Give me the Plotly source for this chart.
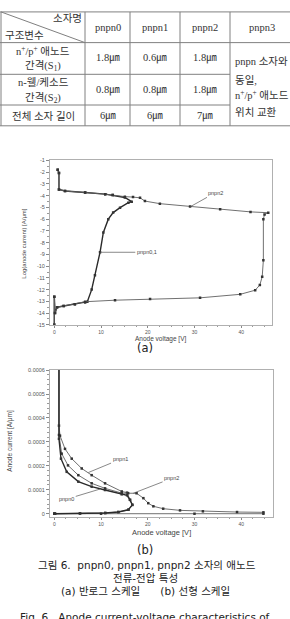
import plotly.graph_objects as go

W, H = 290, 619

# ---------------- table data ----------------
table_cols = ["pnpn0", "pnpn1", "pnpn2", "pnpn3"]
row_labels = [["n<sup>+</sup>/p<sup>+</sup> 애노드", "간격(S<sub>1</sub>)"],
              ["n-웰/케소드", "간격(S<sub>2</sub>)"],
              ["전체 소자 길이"]]
row_values = [["1.8㎛", "0.6㎛", "1.8㎛"],
              ["0.8㎛", "0.8㎛", "1.8㎛"],
              ["6㎛", "6㎛", "7㎛"]]
pnpn3_text = ["pnpn 소자와", "동일,", "n<sup>+</sup>/p<sup>+</sup> 애노드", "위치 교환"]

# ---------------- (a) semi-log data (log10 of A/um) ----------------
v01_log = [0.0, 0.0, 0.15, 0.6, 2.0, 4.4, 6.6, 7.07, 8.0, 8.7, 9.79, 10.5, 11.56, 12.6, 14.07,
           15.85, 16.57, 15.1, 12.5, 10.9, 6.6, 2.3, 1.0, 1.0, 0.73]
l01_log = [-15.0, -12.6, -14.0, -13.5, -13.4, -13.25, -13.1, -13.03, -12.0, -10.78, -8.82, -7.13,
           -6.0, -5.44, -5.02, -4.6, -4.51, -4.15, -3.95, -3.87, -3.73, -3.6, -3.47, -2.07, -1.79]
v2_log = [0.0, 0.0, 0.15, 0.6, 2.0, 4.4, 6.6, 13.0, 20.5, 31.2, 39.8, 43.0, 44.0, 44.5, 44.75,
          44.75, 45.0, 45.8, 42.0, 35.5, 29.06, 22.6, 19.4, 18.35, 16.85, 15.1, 12.5, 10.9, 6.6,
          2.3, 1.0, 1.0, 0.73]
l2_log = [-15.0, -12.6, -14.0, -13.5, -13.4, -13.25, -13.03, -12.9, -12.8, -12.7, -12.4, -12.05,
          -11.6, -10.9, -9.5, -6.0, -5.6, -5.45, -5.38, -5.15, -4.93, -4.68, -4.46, -4.18, -4.12,
          -4.08, -3.95, -3.87, -3.73, -3.6, -3.47, -2.07, -1.79]

# ---------------- (b) linear data (A/um) ----------------
v0_lin = [1.0, 1.0, 1.43, 2.66, 5.14, 8.0, 10.86, 14.43, 15.57, 16.2, 16.7, 15.85, 13.7, 10.9,
          5.5, 0.15, 0.0]
i0_lin = [7.0e-4, 3.13e-4, 2.30e-4, 1.75e-4, 1.34e-4, 1.13e-4, 0.99e-4, 0.81e-4, 0.77e-4,
          0.58e-4, 0.37e-4, 0.165e-4, 0.07e-4, 0.03e-4, 0.01e-4, 0.0, 0.0]
v1_lin = [1.0, 1.0, 1.22, 2.29, 3.73, 5.87, 8.0, 10.86, 14.43, 15.57, 16.2, 16.7, 15.85, 13.7,
          10.9, 5.5, 0.15, 0.0]
i1_lin = [7.0e-4, 3.68e-4, 3.26e-4, 2.71e-4, 2.30e-4, 1.89e-4, 1.61e-4, 1.27e-4, 0.93e-4,
          0.88e-4, 0.58e-4, 0.37e-4, 0.165e-4, 0.07e-4, 0.03e-4, 0.01e-4, 0.0, 0.0]
v2_lin = [1.0, 1.0, 1.58, 2.93, 5.14, 8.0, 10.86, 14.43, 15.8, 17.6, 19.06, 20.1, 21.2, 23.3,
          26.9, 31.8, 39.1, 44.75, 44.75, 30.0, 10.0, 0.0]
i2_lin = [7.0e-4, 3.29e-4, 2.51e-4, 2.02e-4, 1.61e-4, 1.27e-4, 1.06e-4, 0.86e-4, 0.855e-4,
          0.855e-4, 0.65e-4, 0.44e-4, 0.31e-4, 0.21e-4, 0.14e-4, 0.10e-4, 0.07e-4, 0.058e-4,
          0.0, 0.0, 0.0, 0.0]

x_ticks = [0, 10, 20, 30, 40]
y_ticks_a = list(range(-15, 0))
y_ticks_b = [0, 0.0001, 0.0002, 0.0003, 0.0004, 0.0005, 0.0006]
y_ticktext_b = ["0", "0.0001", "0.0002", "0.0003", "0.0004", "0.0005", "0.0006"]

CJK = "Noto Sans CJK KR"
SERIF = "Liberation Serif, Noto Sans CJK KR"
CAP = "DejaVu Sans, Noto Sans CJK KR"


def px(x):
    return x / W


def py(y):
    return 1 - y / H


fig = go.Figure()

line_dark = dict(color="#2a2a2a", width=1.4)
line_mid = dict(color="#606060", width=0.9)
mk = dict(size=2.5, color="#333333", symbol="square")

fig.add_trace(go.Scatter(x=v01_log, y=l01_log, mode="lines+markers", line=line_dark, marker=mk,
                         xaxis="x", yaxis="y", showlegend=False))
fig.add_trace(go.Scatter(x=v2_log, y=l2_log, mode="lines+markers", line=line_mid, marker=mk,
                         xaxis="x", yaxis="y", showlegend=False))
fig.add_trace(go.Scatter(x=v1_lin, y=i1_lin, mode="lines+markers", line=line_mid, marker=mk,
                         xaxis="x2", yaxis="y2", showlegend=False))
fig.add_trace(go.Scatter(x=v2_lin, y=i2_lin, mode="lines+markers", line=line_mid, marker=mk,
                         xaxis="x2", yaxis="y2", showlegend=False))
fig.add_trace(go.Scatter(x=v0_lin, y=i0_lin, mode="lines+markers", line=line_dark, marker=mk,
                         xaxis="x2", yaxis="y2", showlegend=False))

axis_common = dict(showline=True, mirror=True, linecolor="#b0b0b0", linewidth=1,
                   ticks="outside", tickcolor="#888888", tickwidth=1,
                   showgrid=False, zeroline=False)
yfont = dict(size=5.5, color="#555555", family="Liberation Sans")
xfont = dict(size=5, color="#555555", family="Liberation Sans")
minor_x = dict(dtick=2.5, ticklen=1.5, ticks="outside", tickcolor="#999")

# ---------------- shapes (table lines) ----------------
shapes = []
tc = "#808080"


def hline(y, x0, x1):
    shapes.append(dict(type="line", xref="paper", yref="paper", x0=px(x0), x1=px(x1),
                       y0=py(y), y1=py(y), line=dict(color=tc, width=1)))


def vline(x, y0, y1):
    shapes.append(dict(type="line", xref="paper", yref="paper", x0=px(x), x1=px(x),
                       y0=py(y0), y1=py(y1), line=dict(color=tc, width=1)))


tbl_top, tbl_bot = 9, 124
hline(tbl_top, 0, 290)
hline(40, 0, 290)
hline(72, 0, 230)
hline(103, 0, 230)
hline(tbl_bot, 0, 290)
for xv in [1, 85, 130, 180, 230]:
    vline(xv, tbl_top, tbl_bot)
shapes.append(dict(type="line", xref="paper", yref="paper", x0=px(1), y0=py(tbl_top),
                   x1=px(85), y1=py(40), line=dict(color=tc, width=1)))

# ---------------- annotations ----------------
anns = []


def ann(text, x, y, size, family=CJK, color="#333333", xanchor="center", angle=0):
    anns.append(dict(x=px(x), y=py(y), xref="paper", yref="paper", text=text, showarrow=False,
                     xanchor=xanchor, yanchor="middle", textangle=angle,
                     font=dict(size=size, family=family, color=color)))


ann("소자명", 67, 16, 10.5, SERIF)
ann("구조변수", 24, 33, 10.5, SERIF)
col_cx = [107.5, 155, 205, 262]
for cx, name in zip(col_cx, table_cols):
    ann(name, cx, 25, 10.5, SERIF)
row_cy = [56, 88, 114]
label_lines_y = [[48, 64], [80, 96], [114]]
for labs, ys in zip(row_labels, label_lines_y):
    for t, yy in zip(labs, ys):
        ann(t, 43, yy, 10.5, SERIF)
for vals, cy in zip(row_values, row_cy):
    for cx, v in zip(col_cx[:3], vals):
        ann(v, cx, cy, 10.5, SERIF)
for t, yy in zip(pnpn3_text, [59, 78, 92, 110]):
    ann(t, 233, yy, 10.5, SERIF, xanchor="left")

# axis titles
ann("Log(anode current) [A/μm]", 24, 243, 6, "Liberation Sans", "#444444", angle=-90)
ann("Anode voltage [V]", 161, 339, 6.5, "Liberation Sans", "#444444")
ann("Anode current [A/μm]", 10, 442, 6.5, "Liberation Sans", "#444444", angle=-90)
ann("Anode voltage [V]", 161, 535, 7.5, "Liberation Sans", "#444444")

# captions
ann("(a)", 145, 348, 11.5, CAP, "#222222")
ann("(b)", 145, 552, 11.5, CAP, "#222222")
ann("그림 6.  pnpn0, pnpn1, pnpn2 소자의 애노드", 147, 568, 10.5, CAP, "#222222")
ann("전류-전압 특성", 145, 581, 10.5, CAP, "#222222")
ann("(a) 반로그 스케일      (b) 선형 스케일", 145, 594, 10.5, CAP, "#222222")
ann("Fig. 6.  Anode current-voltage characteristics of", 145, 620, 10.5, CAP, "#222222")

# curve labels with leader lines
lab_font = dict(size=5.5, color="#444444", family="Liberation Sans")


def leader(text, xr, yr, x, y, tx, ty):
    anns.append(dict(x=x, y=y, xref=xr, yref=yr, ax=tx, ay=ty, axref=xr, ayref=yr,
                     text=text, showarrow=True, arrowhead=0, arrowwidth=0.7,
                     arrowcolor="#555555", font=lab_font))


leader("pnpn2", "x", "y", 29.06, -4.95, 34.4, -3.76)
leader("pnpn0,1", "x", "y", 9.8, -8.82, 19.8, -8.82)
leader("pnpn1", "x2", "y2", 7.28, 1.72e-4, 14.07, 2.27e-4)
leader("pnpn2", "x2", "y2", 16.9, 0.855e-4, 25.1, 1.475e-4)
leader("pnpn0", "x2", "y2", 9.79, 1.03e-4, 2.66, 0.61e-4)

fig.update_layout(
    width=W, height=H, margin=dict(l=0, r=0, t=0, b=0),
    paper_bgcolor="white", plot_bgcolor="white",
    xaxis=dict(domain=[px(50), px(272)], range=[-0.92, 46.6], anchor="y",
               tickvals=x_ticks, ticklen=2, minor=minor_x, tickfont=xfont, **axis_common),
    yaxis=dict(domain=[py(325), py(159)], range=[-15, -1], anchor="x",
               tickvals=y_ticks_a, ticktext=[str(v) for v in y_ticks_a], ticklen=3,
               minor=dict(dtick=0.5, ticklen=2, ticks="outside", tickcolor="#999"),
               tickfont=yfont, **axis_common),
    xaxis2=dict(domain=[px(50), px(273)], range=[-0.92, 46.8], anchor="y2",
                tickvals=x_ticks, ticklen=2, minor=minor_x, tickfont=xfont, **axis_common),
    yaxis2=dict(domain=[py(519), py(370.7)], range=[-0.0000136, 0.0006], anchor="x2",
                tickvals=y_ticks_b, ticktext=y_ticktext_b, ticklen=3,
                minor=dict(dtick=0.00002, ticklen=2, ticks="outside", tickcolor="#999"),
                tickfont=yfont, **axis_common),
    shapes=shapes,
    annotations=anns,
)

fig.write_html("out.html")
